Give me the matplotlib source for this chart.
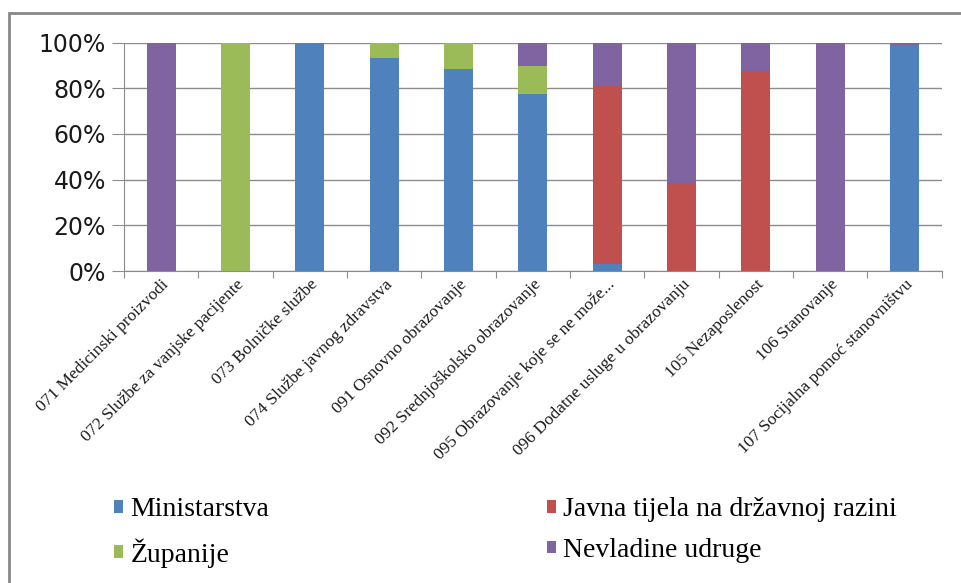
import matplotlib
matplotlib.use("Agg")
import matplotlib.pyplot as plt
from matplotlib.patches import Rectangle
from matplotlib.ticker import FuncFormatter, FixedLocator
import numpy as np

# Categories (functional classification)
categories = ["071 Medicinski proizvodi",
              "072 Službe za vanjske pacijente",
              "073 Bolničke službe",
              "074 Službe javnog zdravstva",
              "091 Osnovno obrazovanje",
              "092 Srednjoškolsko obrazovanje",
              "095 Obrazovanje koje se ne može...",
              "096 Dodatne usluge u obrazovanju",
              "105 Nezaposlenost",
              "106 Stanovanje",
              "107 Socijalna pomoć stanovništvu"]

# Shares in percent, stacked bottom to top
ministarstva = [0, 0, 100, 93.3, 88.6, 77.4, 3.2, 0, 0, 0, 98.8]
javna_tijela = [0, 0, 0, 0, 0, 0, 77.8, 38.5, 87.4, 0, 0]
zupanije = [0, 100, 0, 6.7, 11.4, 12.2, 0, 0, 0, 0, 0]
nevladine = [100, 0, 0, 0, 0, 10.4, 19.0, 61.5, 12.6, 100, 1.2]

series = [("Ministarstva", ministarstva, "#4F81BD"),
          ("Javna tijela na državnoj razini", javna_tijela, "#C0504D"),
          ("Županije", zupanije, "#9BBB59"),
          ("Nevladine udruge", nevladine, "#8064A2")]

fig = plt.figure(figsize=(9.61, 5.83), dpi=100)
ax = fig.add_axes([0.129, 0.535, 0.851, 0.392])

x = np.arange(len(categories))
bottom = np.zeros(len(categories))
bars = {}
for name, vals, col in series:
    vals = np.array(vals, dtype=float)
    bars[name] = ax.bar(x, vals, 0.39, bottom=bottom, color=col,
                        label=name, zorder=3)
    bottom += vals

ax.set_xlim(-0.5, len(categories) - 0.5)
ax.set_ylim(0, 100)
ax.set_yticks(np.arange(0, 101, 20))
ax.yaxis.set_major_formatter(FuncFormatter(lambda v, p: "%d%%" % v))
ax.grid(axis="y", color="#8c8c8c", linewidth=1, zorder=0)
ax.tick_params(axis="y", length=9, color="#8c8c8c", labelsize=17,
               pad=4, labelcolor="#1a1a1a")

# category ticks between bars, labels under bar centres
ax.xaxis.set_major_locator(FixedLocator(np.arange(-0.5, len(categories), 1)))
ax.tick_params(axis="x", which="major", length=5, color="#8c8c8c",
               labelbottom=False)
ax.set_xticks(x, minor=True)
ax.set_xticklabels(categories, minor=True, rotation=45, ha="right",
                   rotation_mode="anchor", fontsize=12.5,
                   family="Liberation Serif", color="#1a1a1a")
ax.tick_params(axis="x", which="minor", length=0, pad=4)

for side in ["top", "right"]:
    ax.spines[side].set_visible(False)
for side in ["left", "bottom"]:
    ax.spines[side].set_color("#8c8c8c")

# legend in two columns below the chart
order = ["Ministarstva", "Županije",
         "Javna tijela na državnoj razini", "Nevladine udruge"]
leg = fig.legend([bars[n] for n in order], order, ncol=2,
                 loc="upper left", bbox_to_anchor=(0.093, 0.19),
                 frameon=False, handlelength=0.32, handleheight=0.32,
                 handletextpad=0.25, columnspacing=10.0, labelspacing=0.57,
                 prop={"family": "Liberation Serif", "size": 20})

# outer chart frame
fig.patches.append(Rectangle((9 / 961, -0.05), 1.1, 1 - 13 / 583 + 0.05,
                             transform=fig.transFigure, fill=False,
                             edgecolor="#888888", linewidth=2))

fig.savefig("out.png", dpi=100)
